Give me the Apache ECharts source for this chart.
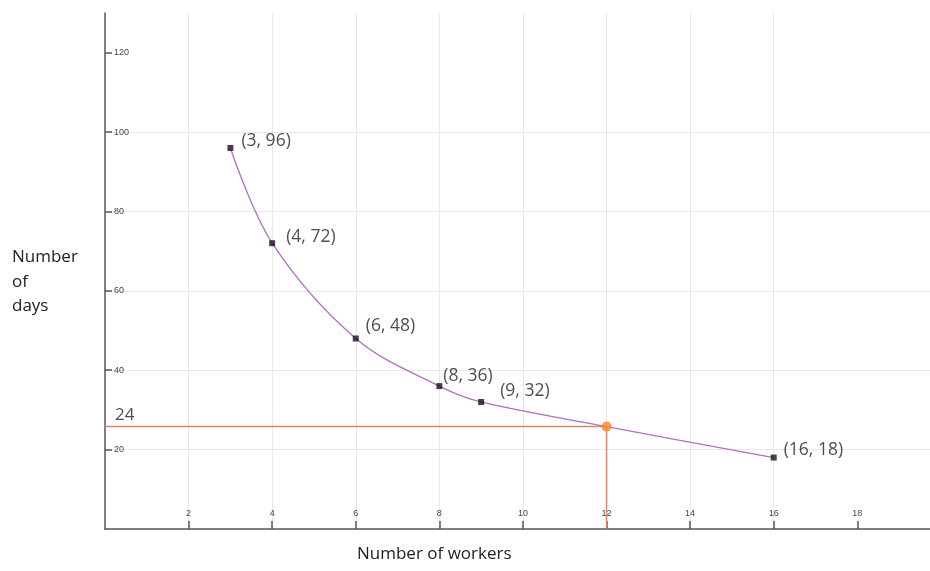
<!DOCTYPE html>
<html><head><meta charset="utf-8">
<script src="https://cdn.jsdelivr.net/npm/echarts@6/dist/echarts.min.js"></script>
<style>html,body{margin:0;padding:0;background:#fff}#c{width:930px;height:571px}</style>
</head><body><div id="c"></div>
<script>
// data
const workers = [3, 4, 6, 8, 9, 16];
const days = [96, 72, 48, 36, 32, 18];
const curveX = [3, 4, 6, 8, 9, 12, 16];
const curveY = [96, 72, 48, 36, 32, 25.8, 18];
const readX = 12;
const readY = 25.8;
const readLabel = '24';
const xTickLabels = [2, 4, 6, 8, 10, 12, 14, 16, 18];
const yTickLabels = [20, 40, 60, 80, 100, 120];
const xAxisTitle = 'Number of workers';
const yAxisTitle = 'Number\nof\ndays';

// label offsets (style, not data)
const labelOffsets = [[3,-7],[6,-6],[2,-12],[-4,-10],[11,-11],[2,-8]];

const chart = echarts.init(document.getElementById('c'));
const tickFont = {fontSize: 9, color: '#444', fontFamily: 'Liberation Sans'};
const textFont = 'Open Sans';
const textColor = '#222';

chart.setOption({
  animation: false,
  grid: {left: 105, top: 13, right: 0, bottom: 42, outerBoundsMode: 'none', containLabel: false},
  xAxis: {
    type: 'value', min: 0, max: 19.74, interval: 2,
    axisLine: {lineStyle: {color: '#555', width: 1.5}},
    axisTick: {inside: true, length: 8, customValues: xTickLabels, lineStyle: {color: '#555', width: 1.5}},
    axisLabel: Object.assign({inside: true, margin: 11, customValues: xTickLabels,
      formatter: v => String(v)}, tickFont),
    splitLine: {show: true, showMinLine: true, showMaxLine: false, lineStyle: {color: '#e8e8e8', width: 1}}
  },
  yAxis: {
    type: 'value', min: 0, max: 130, interval: 20,
    axisLine: {show: true, lineStyle: {color: '#555', width: 1.5}},
    axisTick: {show: true, inside: true, length: 7, customValues: yTickLabels, lineStyle: {color: '#555', width: 1.5}},
    axisLabel: Object.assign({inside: true, margin: 9, customValues: yTickLabels,
      formatter: v => String(v)}, tickFont),
    splitLine: {show: true, showMinLine: true, showMaxLine: false, lineStyle: {color: '#e8e8e8', width: 1}}
  },
  series: [
    {
      type: 'line', silent: true,
      data: [[0, readY], [readX, readY], [readX, 0]],
      symbol: 'none',
      lineStyle: {color: '#d4896c', width: 1.5},
      z: 2
    },
    {
      type: 'scatter', silent: true,
      data: [[0, readY]], symbolSize: 0,
      label: {show: true, position: 'right', offset: [5, -11], formatter: () => readLabel,
        fontSize: 17, color: textColor, fontFamily: textFont}
    },
    {
      type: 'line', silent: true, smooth: 0.35,
      data: curveX.map((x, i) => [x, curveY[i]]),
      symbol: 'none',
      lineStyle: {color: '#b46fc0', width: 1.3},
      z: 3
    },
    {
      type: 'scatter', silent: true,
      data: workers.map((x, i) => ({
        value: [x, days[i]],
        label: {offset: labelOffsets[i]}
      })),
      symbol: 'rect', symbolSize: 6,
      itemStyle: {color: '#1a1020'},
      label: {show: true, position: 'right',
        formatter: p => '(' + p.value[0] + ', ' + p.value[1] + ')',
        fontSize: 17.5, color: textColor, fontFamily: textFont},
      z: 5
    },
    {
      type: 'scatter', silent: true,
      data: [[readX, readY]],
      symbol: 'circle', symbolSize: 10,
      itemStyle: {color: '#f5882a'},
      z: 6
    }
  ],
  graphic: [
    {type: 'text', left: 357, top: 546,
      style: {text: xAxisTitle, fontSize: 17, fill: textColor, fontFamily: textFont}},
    {type: 'text', left: 12, top: 245,
      style: {text: yAxisTitle, fontSize: 17, lineHeight: 24.5, fill: textColor, fontFamily: textFont}}
  ]
});
</script>
</body></html>
